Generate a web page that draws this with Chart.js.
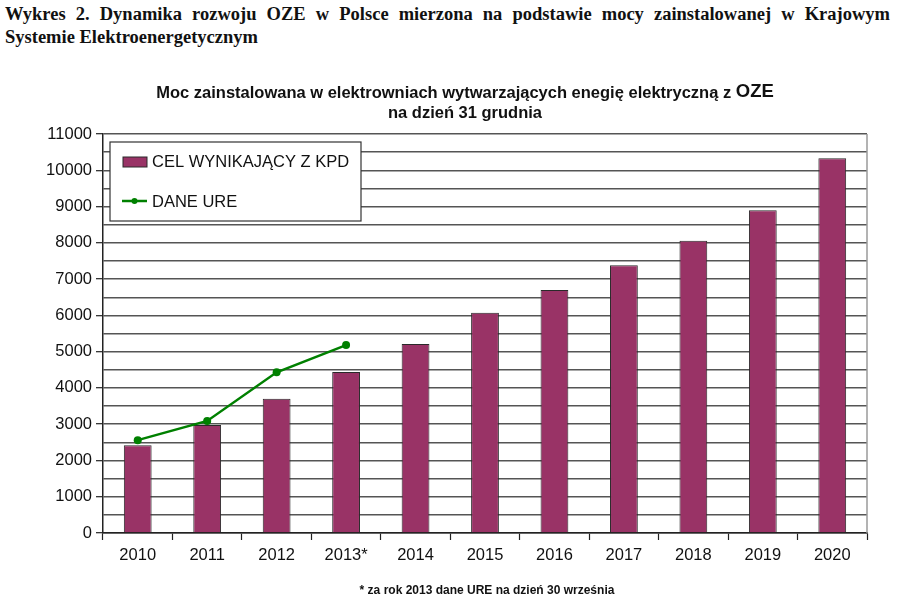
<!DOCTYPE html>
<html><head><meta charset="utf-8">
<script src="https://cdn.jsdelivr.net/npm/chart.js@4/dist/chart.umd.min.js"></script>
<style>
html,body{margin:0;padding:0;background:#fff;}
#wrap{position:relative;width:900px;height:602px;overflow:hidden;}
#hdr{position:absolute;left:5px;top:3px;width:885px;font-family:"Liberation Serif","Times New Roman",serif;font-weight:bold;font-size:18.5px;line-height:23px;color:#111;}
#hdr .l1{text-align:justify;text-align-last:justify;white-space:nowrap;}
canvas{position:absolute;left:0;top:0;}
</style></head>
<body><div id="wrap">
<div id="hdr"><div class="l1">Wykres 2. Dynamika rozwoju OZE w Polsce mierzona na podstawie mocy zainstalowanej w Krajowym</div><div>Systemie Elektroenergetycznym</div></div>
<canvas id="c" width="900" height="602"></canvas>
</div>
<script>
const categories = ['2010','2011','2012','2013*','2014','2015','2016','2017','2018','2019','2020'];
const kpdTarget = [2420, 2980, 3700, 4440, 5210, 6070, 6700, 7380, 8060, 8900, 10330];
const ureData = [2560, 3090, 4430, 5180, null, null, null, null, null, null, null];
const titleLine1 = 'Moc zainstalowana w elektrowniach wytwarzających enegię elektryczną z ';
const titleOZE = 'OZE';
const titleLine2 = 'na dzień 31 grudnia';
const footnote = '* za rok 2013 dane URE na dzień 30 września';
const seriesLabels = ['CEL WYNIKAJĄCY Z KPD', 'DANE URE'];

const FONT = '"Liberation Sans", Arial, sans-serif';

const decor = {
  id: 'decor',
  afterDraw(chart) {
    const ctx = chart.ctx, a = chart.chartArea;
    ctx.save();
    // right border
    ctx.strokeStyle = '#9a9a9a'; ctx.lineWidth = 1.5;
    ctx.beginPath(); ctx.moveTo(a.right, a.top); ctx.lineTo(a.right, a.bottom); ctx.stroke();
    // title
    ctx.fillStyle = '#111'; ctx.textBaseline = 'middle';
    ctx.font = 'bold 16.5px ' + FONT;
    const w1 = ctx.measureText(titleLine1).width;
    ctx.font = 'bold 18.5px ' + FONT;
    const w2 = ctx.measureText(titleOZE).width;
    let x = 465 - (w1 + w2) / 2;
    ctx.textAlign = 'left';
    ctx.font = 'bold 16.5px ' + FONT; ctx.fillText(titleLine1, x, 93);
    ctx.font = 'bold 18.5px ' + FONT; ctx.fillText(titleOZE, x + w1, 92);
    ctx.textAlign = 'center';
    ctx.font = 'bold 16.5px ' + FONT; ctx.fillText(titleLine2, 465, 113);
    ctx.font = 'bold 12px ' + FONT; ctx.fillText(footnote, 487, 591);
    // legend
    const L = 110, T = 142, R = 361, B = 221;
    ctx.fillStyle = '#fff'; ctx.fillRect(L, T, R - L, B - T);
    ctx.strokeStyle = '#333'; ctx.lineWidth = 1.2; ctx.strokeRect(L, T, R - L, B - T);
    const ds0 = chart.data.datasets[0], ds1 = chart.data.datasets[1];
    ctx.fillStyle = ds0.backgroundColor; ctx.fillRect(123, 157, 24, 10);
    ctx.strokeStyle = ds0.borderColor; ctx.lineWidth = 1; ctx.strokeRect(123, 157, 24, 10);
    ctx.strokeStyle = ds1.borderColor; ctx.lineWidth = 2.5;
    ctx.beginPath(); ctx.moveTo(122, 201); ctx.lineTo(147, 201); ctx.stroke();
    ctx.fillStyle = ds1.borderColor; ctx.beginPath(); ctx.arc(134.5, 201, 3, 0, Math.PI * 2); ctx.fill();
    ctx.fillStyle = '#111'; ctx.textAlign = 'left'; ctx.font = '16.5px ' + FONT;
    ctx.fillText(ds0.label, 152, 162);
    ctx.fillText(ds1.label, 152, 202);
    ctx.restore();
  }
};

new Chart(document.getElementById('c'), {
  data: {
    labels: categories,
    datasets: [
      { type: 'bar', label: seriesLabels[0], data: kpdTarget, backgroundColor: '#993366', borderColor: '#2a2a2a', borderWidth: 1, barPercentage: 0.4, categoryPercentage: 1.0, order: 2 },
      { type: 'line', label: seriesLabels[1], data: ureData, borderColor: '#008000', backgroundColor: '#008000', borderWidth: 2.5, pointRadius: 4, pointBackgroundColor: '#008000', pointBorderWidth: 0, tension: 0, spanGaps: false, order: 1 }
    ]
  },
  options: {
    responsive: false, animation: false,
    layout: { padding: { left: 0, right: 33, top: 134, bottom: 0 } },
    plugins: { legend: { display: false }, title: { display: false }, tooltip: { enabled: false } },
    scales: {
      x: {
        afterFit(s) { s.height = 69; },
        grid: { offset: true, drawOnChartArea: false, drawTicks: true, tickLength: 7, color: '#222', tickColor: '#222', tickWidth: 1.2 },
        border: { display: true, color: '#222', width: 1.5 },
        ticks: { color: '#111', font: { family: FONT, size: 16.5 }, padding: 6, maxRotation: 0, autoSkip: false }
      },
      y: {
        min: 0, max: 11000,
        afterFit(s) { s.width = 103; },
        grid: { color: '#555', lineWidth: 1.4, tickLength: 7, tickColor: (c) => (c.tick && c.tick.value % 1000 === 0) ? '#222' : 'rgba(0,0,0,0)', tickWidth: 1.2 },
        border: { display: true, color: '#222', width: 1.5 },
        ticks: { stepSize: 500, autoSkip: false, color: '#111', font: { family: FONT, size: 16.5 }, padding: 4,
          callback: (v) => (v % 1000 === 0) ? String(v) : '' }
      }
    }
  },
  plugins: [decor]
});
</script>
</body></html>
